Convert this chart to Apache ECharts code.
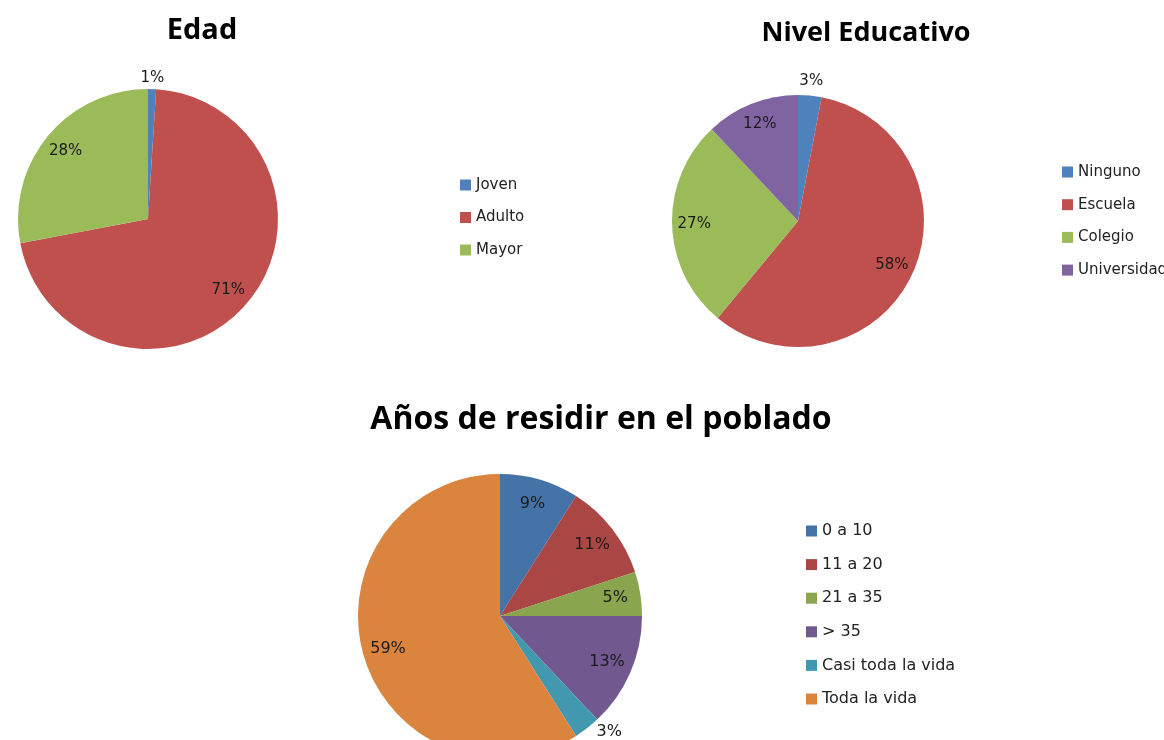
<!DOCTYPE html>
<html>
<head>
<meta charset="utf-8">
<script src="https://cdn.jsdelivr.net/npm/echarts@6/dist/echarts.min.js"></script>
<style>
  html, body { margin: 0; padding: 0; background: #fff; }
  #main { width: 1164px; height: 740px; }
</style>
</head>
<body>
<div id="main"></div>
<script>
// datos
var edadNames = ['Joven', 'Adulto', 'Mayor'];
var edadValues = [1, 71, 28];

var nivelNames = ['Ninguno', 'Escuela', 'Colegio', 'Universidad'];
var nivelValues = [3, 58, 27, 12];

var aniosNames = ['0 a 10', '11 a 20', '21 a 35', '> 35', 'Casi toda la vida', 'Toda la vida'];
var aniosValues = [9, 11, 5, 13, 3, 59];

var coloresA = ['#4F81BD', '#C0504D', '#9BBB59', '#8064A2'];
var coloresB = ['#4572A7', '#AA4643', '#89A54E', '#71588F', '#4198AF', '#DB843D'];

var fuenteTitulo = '"Open Sans", "DejaVu Sans", sans-serif';
var fuente = '"DejaVu Sans", sans-serif';
var SMALL = 4; // slices under 4% get their label outside the pie

function buildData(names, values, colors, mode) {
	var out = [];
	for (var i = 0; i < names.length; i++) {
		var small = values[i] < SMALL;
		var d = { name: names[i], value: values[i] };
		if (mode === 'fill') {
			d.itemStyle = { color: colors[i] };
		} else {
			d.itemStyle = { color: 'rgba(0,0,0,0)' };
			if (mode === 'rim') d.label = { show: !small };
			if (mode === 'ring') d.label = { show: small };
			if (mode === 'out') {
				d.label = { show: small };
				d.labelLine = { show: false, length: 4, length2: 2 };
			}
		}
		out.push(d);
	}
	return out;
}

function base(center, radius, data, fontSize, position) {
	return {
		type: 'pie',
		center: center,
		radius: radius,
		startAngle: 90,
		clockwise: true,
		animation: false,
		silent: true,
		avoidLabelOverlap: false,
		emphasis: { disabled: true },
		itemStyle: { borderWidth: 0 },
		label: {
			show: true,
			position: position,
			formatter: '{c}%',
			color: '#1a1a1a',
			fontFamily: fuente,
			fontSize: fontSize
		},
		labelLine: { show: false },
		data: data
	};
}

// ringW > 0: small labels centred in a ring just past the rim, else plain outside labels
function pieSeries(names, values, colors, center, r, fontSize, ringW) {
	var fill = base(center, r, buildData(names, values, colors, 'fill'), fontSize, 'inside');
	fill.label.show = false;
	var list = [
		fill,
		base(center, [r * 0.6, r], buildData(names, values, colors, 'rim'), fontSize, 'inside')
	];
	if (ringW > 0) {
		list.push(base(center, [r, r + ringW], buildData(names, values, colors, 'ring'), fontSize, 'inside'));
	} else {
		list.push(base(center, r, buildData(names, values, colors, 'out'), fontSize, 'outside'));
	}
	return list;
}

function legendOpt(names, left, top, gap, fontSize) {
	return {
		orient: 'vertical',
		left: left,
		top: top,
		padding: 0,
		data: names,
		icon: 'rect',
		itemWidth: 11,
		itemHeight: 11,
		itemGap: gap,
		selectedMode: false,
		textStyle: { color: '#222', fontFamily: fuente, fontSize: fontSize, lineHeight: 16 }
	};
}

var series = [].concat(
	pieSeries(edadNames, edadValues, coloresA, [148, 219], 130, 15, 16),
	pieSeries(nivelNames, nivelValues, coloresA, [798, 221], 126, 15, 24),
	pieSeries(aniosNames, aniosValues, coloresB, [500, 616], 142, 16, 0)
);

var option = {
	backgroundColor: '#fff',
	title: [
		{ text: 'Edad', left: 197, top: 11, textAlign: 'center',
		  textStyle: { fontFamily: fuenteTitulo, fontWeight: 'bold', fontSize: 29, color: '#000' } },
		{ text: 'Nivel Educativo', left: 861, top: 15, textAlign: 'center',
		  textStyle: { fontFamily: fuenteTitulo, fontWeight: 'bold', fontSize: 27, color: '#000' } },
		{ text: 'Años de residir en el poblado', left: 596, top: 399, textAlign: 'center',
		  textStyle: { fontFamily: fuenteTitulo, fontWeight: 'bold', fontSize: 32, color: '#000' } }
	],
	legend: [
		legendOpt(edadNames, 460, 177, 16.5, 15),
		legendOpt(nivelNames, 1062, 164, 16.7, 15),
		legendOpt(aniosNames, 806, 523, 17.6, 16)
	],
	series: series
};

var myChart = echarts.init(document.getElementById('main'), null, { renderer: 'canvas' });
myChart.setOption(option);
</script>
</body>
</html>
